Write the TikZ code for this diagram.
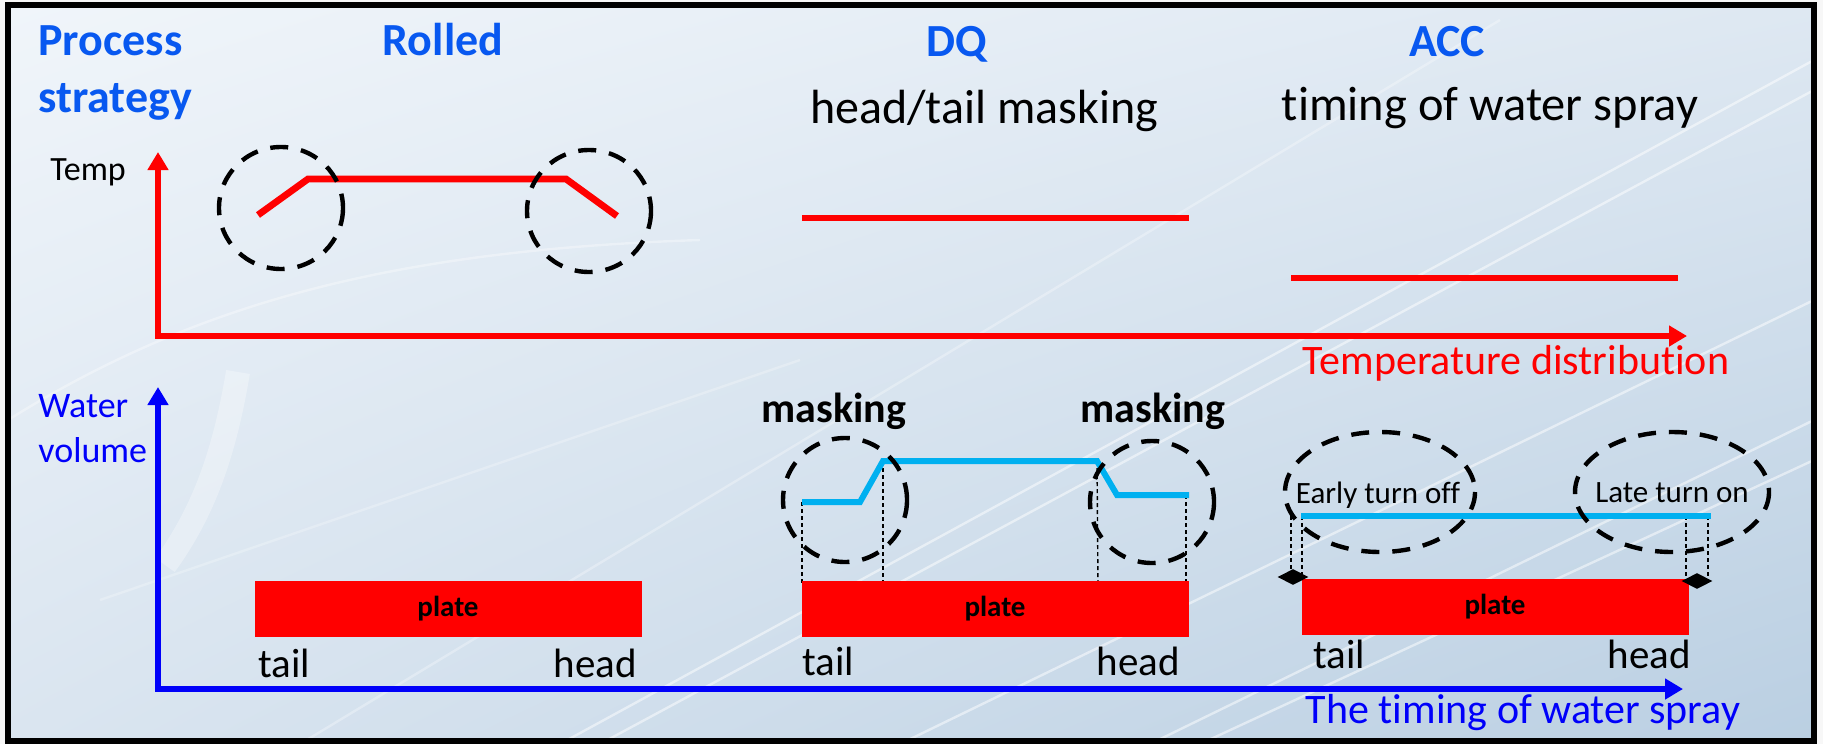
\documentclass[tikz,border=0pt]{standalone}
\usepackage{fontspec}
\setmainfont{Carlito}[Ligatures=NoCommon]
\usetikzlibrary{arrows.meta,shapes.geometric,shadings}
\definecolor{titleblue}{RGB}{8,88,240}
\definecolor{axblue}{RGB}{0,0,250}
\definecolor{pred}{RGB}{255,0,0}
\definecolor{wcyan}{RGB}{0,176,240}
\definecolor{bgA}{RGB}{240,245,250}
\definecolor{bgB}{RGB}{222,232,242}
\definecolor{bgC}{RGB}{218,229,240}
\definecolor{bgD}{RGB}{186,207,226}
\begin{document}
\begin{tikzpicture}[x=0.5pt,y=-0.5pt,
  title/.style={text=titleblue,font=\fontsize{23}{26}\selectfont\bfseries,inner sep=0pt},
  subhead/.style={text=black,inner sep=0pt,font=\fontsize{24}{28}\selectfont},
  endlbl/.style={text=black,font=\fontsize{20.5}{24}\selectfont,inner sep=0pt},
  masklbl/.style={text=black,font=\fontsize{21}{24}\selectfont\bfseries,inner sep=0pt},
  smalllbl/.style={text=black,font=\fontsize{15.5}{18}\selectfont,inner sep=0pt},
  bluelbl/.style={text=axblue,font=\fontsize{18}{22}\selectfont,inner sep=0pt},
  raxis/.style={draw=pred,line width=3pt,{Triangle[length=9pt,width=10pt]}-{Triangle[length=9pt,width=10pt]}},
  baxis/.style={draw=axblue,line width=3pt,{Triangle[length=9pt,width=10pt]}-{Triangle[length=9pt,width=10pt]}},
  templine/.style={draw=pred,line width=3.4pt},
  waterline/.style={draw=wcyan,line width=3pt},
  dashring/.style={draw=black,line width=2.2pt,dash pattern=on 9pt off 6.5pt},
  guide/.style={draw=black,line width=0.7pt,dash pattern=on 2pt off 1.5pt},
  platebox/.style={fill=pred,draw=none,minimum width=193.5pt,minimum height=28pt,inner sep=0pt,font=\fontsize{14.5}{17}\selectfont\bfseries},
  dmark/.style={shape=diamond,fill=black,draw=none,inner sep=0pt,minimum width=15.5pt,minimum height=8pt},
  streak/.style={draw=white,line width=1.2pt,opacity=0.5}
]
\useasboundingbox (0,0) rectangle (1823,744);
\fill[white!94!gray] (0,0) rectangle (1823,744);
\shade[upper left=bgA,upper right=bgB,lower left=bgC,lower right=bgD] (8,5) rectangle (1814,741);
% background streaks
\draw[streak] (560,744) -- (1814,60);
\draw[streak] (600,744) -- (1814,90);
\draw[streak] (900,744) -- (1814,300);
\draw[streak] (1150,744) -- (1814,420);
\draw[streak] (1200,744) -- (1814,460);
\draw[streak,opacity=0.3] (300,744) -- (1500,20);
\draw[streak,opacity=0.25] (100,600) -- (800,360);
\draw[draw=white,line width=12pt,opacity=0.3] (238,372) .. controls (225,450) and (205,510) .. (165,565);
\draw[streak,opacity=0.35] (8,420) .. controls (200,300) and (400,250) .. (700,240);
\draw[black,line width=2.6pt] (8,5) rectangle (1814,741);

% titles
\node[title,anchor=base west] (proc) at (38,55) {Process};
\node[title,anchor=base west] (strat) at (38,112) {strategy};
\node[title,anchor=base] (rolled) at (443,55) {Rolled};
\node[title,anchor=base] (dq) at (957,56) {DQ};
\node[title,anchor=base] (acc) at (1447,56) {ACC};
\node[subhead,anchor=base] (dqsub) at (984,123) {head/tail masking};
\node[subhead,font=\fontsize{24.2}{28}\selectfont,anchor=base] (accsub) at (1490,120) {timing of water spray};

% temperature axes
\node[text=black,font=\fontsize{17}{20}\selectfont,inner sep=0pt,anchor=base] (temp) at (88,180) {Temp};
\coordinate (ty) at (158,152);
\coordinate (to) at (158,336);
\coordinate (tx) at (1687,336);
\draw[raxis] (ty) -- (to) -- (tx);
\node[text=pred,font=\fontsize{21}{24}\selectfont,inner sep=0pt,anchor=base] (tdist) at (1516,374) {Temperature distribution};

% temperature profiles
\draw[templine] (258,215) -- (308,179) -- (566,179) -- (617,216);
\draw[dashring] (281,208) ellipse [x radius=62, y radius=61];
\draw[dashring] (589,211) ellipse [x radius=62, y radius=61];
\draw[templine] (802,218) -- (1189,218);
\draw[templine] (1291,278) -- (1678,278);

% water axes
\node[bluelbl,anchor=base west] (water) at (38,417) {Water};
\node[bluelbl,anchor=base west] (volume) at (38,462) {volume};
\coordinate (wy) at (158,387);
\coordinate (wo) at (158,689);
\coordinate (wx) at (1683,689);
\draw[baxis] (wy) -- (wo) -- (wx);
\node[text=axblue,font=\fontsize{21}{24}\selectfont,inner sep=0pt,anchor=base] (wtime) at (1523,723) {The timing of water spray};

% Rolled
\node[platebox] (plate1) at (448,609) {plate};
\node[endlbl,anchor=base west] (tail1) at (258,677) {tail};
\node[endlbl,anchor=base east] (head1) at (637,677) {head};

% DQ
\node[masklbl,anchor=base] (mask1) at (834,422) {masking};
\node[masklbl,anchor=base] (mask2) at (1153,422) {masking};
\coordinate (q1) at (802,502);
\coordinate (q2) at (860,502);
\coordinate (q3) at (883,461);
\coordinate (q4) at (1097,461);
\coordinate (q5) at (1117,495);
\coordinate (q6) at (1189,495);
\coordinate (q7) at (1186,495);
\coordinate (g1) at (802,583);
\coordinate (g2) at (883,590);
\coordinate (g3) at (1098,587);
\coordinate (g4) at (1186,588);
\draw[guide] (q1) -- (g1);
\draw[guide] (q3) -- (g2);
\draw[guide] (q4) -- (g3);
\draw[guide] (q7) -- (g4);
\node[platebox] (plate2) at (995,609) {plate};
\draw[waterline] (q1) -- (q2) -- (q3) -- (q4) -- (q5) -- (q6);
\draw[dashring] (845,500) ellipse [x radius=62, y radius=62];
\draw[dashring] (1152,502) ellipse [x radius=62, y radius=61];
\node[endlbl,anchor=base west] (tail2) at (802,675) {tail};
\node[endlbl,anchor=base east] (head2) at (1180,675) {head};

% ACC
\coordinate (a1) at (1291,516);
\coordinate (a2) at (1302,516);
\coordinate (a3) at (1686,516);
\coordinate (a4) at (1708,516);
\coordinate (b1) at (1291,577);
\coordinate (b2) at (1302,577);
\coordinate (b3) at (1686,584);
\coordinate (b4) at (1708,584);
\coordinate (w1) at (1301,516);
\coordinate (w2) at (1711,516);
\draw[guide] (a1) -- (b1);
\draw[guide] (a2) -- (b2);
\draw[guide] (a3) -- (b3);
\draw[guide] (a4) -- (b4);
\node[platebox] (plate3) at (1495,607) {plate};
\draw[waterline] (w1) -- (w2);
\node[dmark] (d1) at (1293,577) {};
\node[dmark] (d2) at (1697,581) {};
\draw[dashring] (1380,492) ellipse [x radius=95, y radius=60];
\draw[dashring] (1672,492) ellipse [x radius=97, y radius=60];
\node[smalllbl,anchor=base] (early) at (1378,503) {Early turn off};
\node[smalllbl,anchor=base] (late) at (1672,502) {Late turn on};
\node[endlbl,anchor=base west] (tail3) at (1313,668) {tail};
\node[endlbl,anchor=base east] (head3) at (1691,668) {head};
\end{tikzpicture}
\end{document}
